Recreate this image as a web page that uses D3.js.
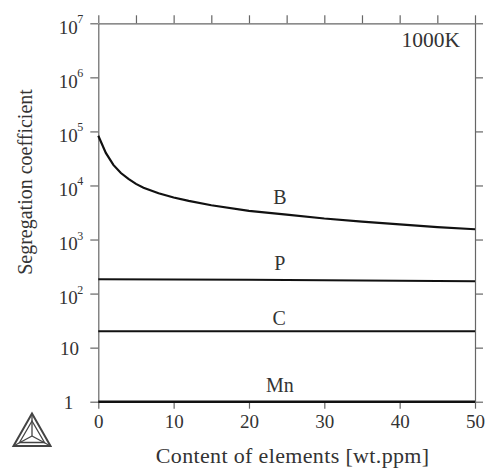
<!DOCTYPE html>
<html>
<head>
<meta charset="utf-8">
<script src="https://cdn.jsdelivr.net/npm/d3@7"></script>
<style>
	body { margin: 0; background: #fff; }
	svg { display: block; font-family: "Liberation Serif", "Times New Roman", serif; }
	.axis { font-family: "Liberation Serif", "Times New Roman", serif; }
	.axis path, .axis line { stroke: #666; stroke-width: 1.2; }
	.axis text { fill: #333; font-size: 19px; }
	.series { fill: none; stroke: #111; }
</style>
</head>
<body>
<div id="chart"></div>
<script>
// content of elements [wt.ppm]
var xTicks = [0, 10, 20, 30, 40, 50];
var xMinorTicks = [0, 5, 10, 15, 20, 25, 30, 35, 40, 45, 50];
var yTicks = [1, 10, 1e2, 1e3, 1e4, 1e5, 1e6, 1e7];

// segregation coefficient
var contentB = [0, 1, 2, 3, 4, 5, 6, 8, 10, 12, 15, 20, 25, 30, 35, 40, 45, 50];
var valuesB = [83000, 40000, 24000, 17000, 13200, 10700, 9100, 7200, 6000, 5200, 4300, 3400, 2900, 2450, 2150, 1900, 1700, 1550];
var contentP = [0, 10, 20, 30, 40, 50];
var valuesP = [185, 183, 180, 177, 173, 170];
var contentC = [0, 50];
var valuesC = [20, 20];
var contentMn = [0, 50];
var valuesMn = [1, 1];

var elementNames = ["B", "P", "C", "Mn"];
var labelContent = [24.1, 24.1, 24, 24.1];
var labelValues = [4600, 275, 26, 1.53];

var temperatureLabel = "1000K";

(function() {
	var width = 489, height = 470;
	var pLeft = 98.3, pRight = 475, pTop = 23.3, pBottom = 401.7;

	var svg = d3.select("#chart").append("svg")
		.attr("width", width)
		.attr("height", height);

	var x = d3.scaleLinear().domain([0, 50]).range([pLeft, pRight]);
	var y = d3.scaleLog().domain([1, 1e7]).range([pBottom, pTop]);

	// frame axes
	svg.append("g")
		.attr("class", "axis")
		.attr("transform", "translate(0," + pTop + ")")
		.call(d3.axisTop(x).tickValues(xMinorTicks).tickSize(8).tickSizeOuter(0).tickFormat(""));

	svg.append("g")
		.attr("class", "axis")
		.attr("transform", "translate(" + pRight + ",0)")
		.call(d3.axisRight(y).tickValues(yTicks).tickSize(8).tickSizeOuter(0).tickFormat(""));

	svg.append("g")
		.attr("class", "axis")
		.attr("transform", "translate(0," + pBottom + ")")
		.call(d3.axisBottom(x).tickValues(xTicks).tickSize(7).tickSizeOuter(0).tickPadding(6));

	var yAxis = svg.append("g")
		.attr("class", "axis")
		.attr("transform", "translate(" + pLeft + ",0)")
		.call(d3.axisLeft(y).tickValues(yTicks).tickSize(8).tickSizeOuter(0).tickFormat(""));

	// y tick labels, powers of ten with a raised exponent
	yAxis.selectAll(".tick").each(function(d) {
		var t = d3.select(this);
		var p = Math.round(Math.log10(d));
		if (p < 2) {
			t.append("text")
				.attr("x", p == 0 ? -29.8 : -28.8)
				.attr("y", 7)
				.attr("text-anchor", "middle")
				.text(p == 0 ? "1" : "10");
		} else {
			t.append("text")
				.attr("x", -20.5)
				.attr("y", 10)
				.attr("text-anchor", "end")
				.text("10");
			t.append("text")
				.attr("x", -21)
				.attr("y", -0.5)
				.attr("text-anchor", "start")
				.style("font-size", "12px")
				.text(p);
		}
	});

	// curves
	var line = d3.line()
		.x(function(d) { return x(d[0]); })
		.y(function(d) { return y(d[1]); });

	var series = [
		{ content: contentB, values: valuesB, w: 2.2 },
		{ content: contentP, values: valuesP, w: 2 },
		{ content: contentC, values: valuesC, w: 2 },
		{ content: contentMn, values: valuesMn, w: 2.6 }
	];

	svg.append("g").selectAll("path")
		.data(series)
		.enter().append("path")
		.attr("class", "series")
		.attr("stroke-width", function(d) { return d.w; })
		.attr("d", function(d) { return line(d3.zip(d.content, d.values)); });

	// element labels
	svg.append("g").selectAll("text")
		.data(elementNames)
		.enter().append("text")
		.attr("x", function(d, i) { return x(labelContent[i]); })
		.attr("y", function(d, i) { return y(labelValues[i]); })
		.attr("text-anchor", "middle")
		.attr("fill", "#333")
		.style("font-size", "20px")
		.text(function(d) { return d; });

	svg.append("text")
		.attr("x", 460)
		.attr("y", 47)
		.attr("text-anchor", "end")
		.attr("fill", "#333")
		.style("font-size", "21.5px")
		.text(temperatureLabel);

	// axis titles
	svg.append("text")
		.attr("x", (pLeft + pRight) / 2 + 6)
		.attr("y", 463)
		.attr("text-anchor", "middle")
		.attr("fill", "#333")
		.style("font-size", "22px")
		.style("letter-spacing", "0.35px")
		.text("Content of elements [wt.ppm]");

	svg.append("text")
		.attr("transform", "translate(32,182) rotate(-90)")
		.attr("text-anchor", "middle")
		.attr("fill", "#333")
		.style("font-size", "20px")
		.text("Segregation coefficient");

	// Thermo-Calc style logo
	var logo = svg.append("g")
		.attr("fill", "none")
		.attr("stroke", "#444")
		.attr("stroke-width", 1.3)
		.attr("transform", "translate(32,434)");
	var outer = [[0, -20.5], [-18.5, 12], [18.5, 12]];
	var inner = [[0, -13], [-12.5, 8.5], [12.5, 8.5]];
	var centre = [0, 2];
	logo.append("path").attr("d", d3.line()(outer) + "Z").attr("stroke-width", 2);
	logo.append("path").attr("d", d3.line()(inner) + "Z");
	logo.selectAll("line.spoke")
		.data(outer)
		.enter().append("line")
		.attr("class", "spoke")
		.attr("x1", centre[0]).attr("y1", centre[1])
		.attr("x2", function(d) { return d[0]; })
		.attr("y2", function(d) { return d[1]; });
})();
</script>
</body>
</html>
